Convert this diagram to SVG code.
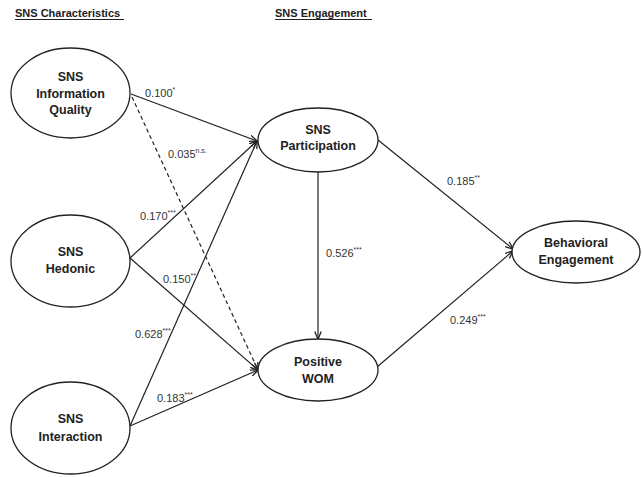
<svg xmlns="http://www.w3.org/2000/svg" width="643" height="477" viewBox="0 0 643 477">
<style>
.bg{fill:#fff}
.node{fill:#fff;stroke:#222;stroke-width:1.3}
.nt{font-family:"Liberation Sans",Arial,sans-serif;font-weight:bold;font-size:12.5px;fill:#222;text-anchor:middle}
.title{font-family:"Liberation Sans",Arial,sans-serif;font-weight:bold;font-size:11px;fill:#222}
.ul{stroke:#222;stroke-width:1}
.edge{fill:none;stroke:#222;stroke-width:1.2;marker-end:url(#arr)}
.dash{stroke-dasharray:4 3}
.lbl{font-family:"Liberation Sans",Arial,sans-serif;font-size:11px;fill:#333}
.sup{font-size:7px}
</style>
<defs>
<marker id="arr" viewBox="0 0 10 10" refX="9.5" refY="5" markerWidth="8" markerHeight="8" markerUnits="userSpaceOnUse" orient="auto">
<path d="M0,1 L10,5 L0,9" fill="none" stroke="#222" stroke-width="1.6"/>
</marker>
</defs>
<rect class="bg" x="0" y="0" width="643" height="477"/>

<g id="titles">
<text class="title" x="15" y="17">SNS Characteristics</text>
<line class="ul" x1="15" y1="19.5" x2="124" y2="19.5"/>
<text class="title" x="275" y="17">SNS Engagement</text>
<line class="ul" x1="275" y1="19.5" x2="372" y2="19.5"/>
</g>

<g id="connectors">
<line class="edge" x1="131" y1="94" x2="257" y2="141"/>
<line class="edge dash" x1="132" y1="97" x2="258" y2="370"/>
<line class="edge" x1="130" y1="258" x2="257" y2="141"/>
<line class="edge" x1="130" y1="258" x2="258" y2="370"/>
<line class="edge" x1="130" y1="426" x2="257" y2="141"/>
<line class="edge" x1="130" y1="426" x2="258" y2="370"/>
<line class="edge" x1="318" y1="172" x2="318" y2="339"/>
<line class="edge" x1="378" y1="140" x2="513" y2="249"/>
<line class="edge" x1="377" y1="367" x2="513" y2="251"/>
</g>

<g id="labels">
<text class="lbl" x="145" y="97">0.100<tspan class="sup" dy="-5">*</tspan></text>
<text class="lbl" x="168" y="158">0.035<tspan class="sup" dy="-5">n.s.</tspan></text>
<text class="lbl" x="140" y="220">0.170<tspan class="sup" dy="-5">***</tspan></text>
<text class="lbl" x="163" y="283">0.150<tspan class="sup" dy="-5">**</tspan></text>
<text class="lbl" x="135" y="338">0.628<tspan class="sup" dy="-5">***</tspan></text>
<text class="lbl" x="157" y="402">0.183<tspan class="sup" dy="-5">***</tspan></text>
<text class="lbl" x="326" y="257">0.526<tspan class="sup" dy="-5">***</tspan></text>
<text class="lbl" x="447" y="185">0.185<tspan class="sup" dy="-5">**</tspan></text>
<text class="lbl" x="450" y="324">0.249<tspan class="sup" dy="-5">***</tspan></text>
</g>

<g id="info-quality">
<ellipse class="node" cx="70.5" cy="93" rx="59.5" ry="45"/>
<text class="nt" x="70.5" y="81">SNS</text>
<text class="nt" x="70.5" y="97.5">Information</text>
<text class="nt" x="70.5" y="114">Quality</text>
</g>

<g id="hedonic">
<ellipse class="node" cx="70.5" cy="261" rx="59.5" ry="46"/>
<text class="nt" x="70.5" y="256">SNS</text>
<text class="nt" x="70.5" y="273">Hedonic</text>
</g>

<g id="interaction">
<ellipse class="node" cx="70.5" cy="428" rx="59.5" ry="46"/>
<text class="nt" x="70.5" y="423">SNS</text>
<text class="nt" x="70.5" y="441">Interaction</text>
</g>

<g id="participation">
<ellipse class="node" cx="318" cy="140" rx="60" ry="32"/>
<text class="nt" x="318" y="134">SNS</text>
<text class="nt" x="318" y="150">Participation</text>
</g>

<g id="positive-wom">
<ellipse class="node" cx="318" cy="370" rx="60" ry="31"/>
<text class="nt" x="318" y="366">Positive</text>
<text class="nt" x="318" y="383">WOM</text>
</g>

<g id="behavioral">
<ellipse class="node" cx="576" cy="252" rx="64" ry="31"/>
<text class="nt" x="576" y="247">Behavioral</text>
<text class="nt" x="576" y="264">Engagement</text>
</g>
</svg>
